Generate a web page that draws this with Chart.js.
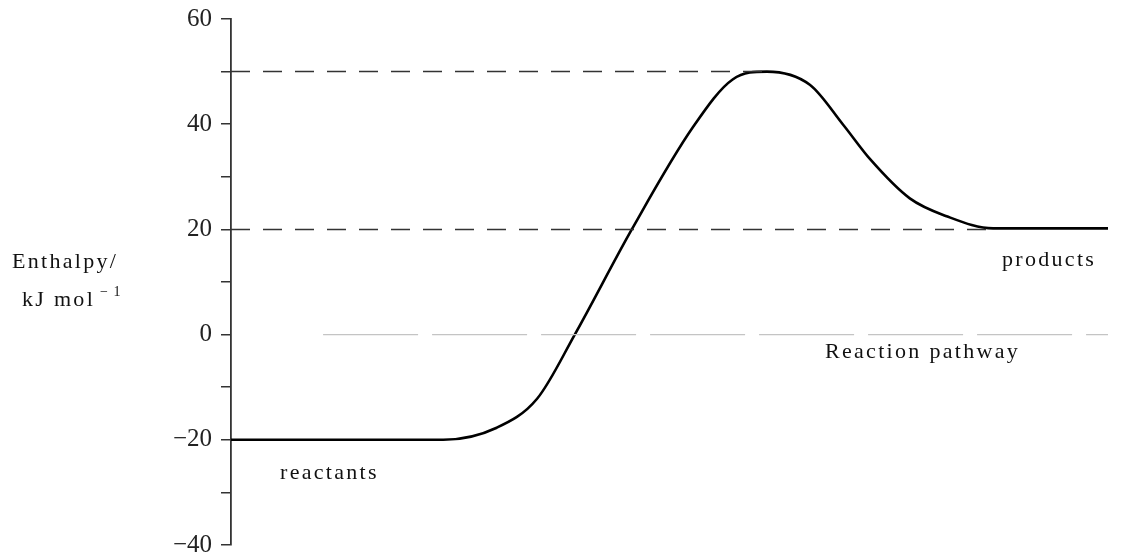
<!DOCTYPE html>
<html>
<head>
<meta charset="utf-8">
<script src="https://cdn.jsdelivr.net/npm/chart.js@4"></script>
<style>
  html, body { margin: 0; padding: 0; background: #fff; }
  #wrap { width: 1128px; height: 553px; }
</style>
</head>
<body>
<div id="wrap"><canvas id="energyChart"></canvas></div>
<script>
// reaction pathway (0 = start, 100 = end) and enthalpy
const pathway  = [0, 24.2, 30.3, 34.9, 39.2, 45.7, 52.7, 57.2, 61.1, 66.0, 69.8, 72.9, 77.4, 81.6, 86.9, 100];
const enthalpy = [-20, -20, -17.7, -12.2, 0, 20, 39.5, 48.5, 50, 47.5, 39.9, 33.3, 25.9, 22.5, 20.2, 20.2];

const peakLevel = 50;
const productLevel = 20;
const tickValues = [-40, -20, 0, 20, 40, 60];
const tickLabels = ['\u221240', '\u221220', '0', '20', '40', '60'];

const serif = '"Liberation Serif", "DejaVu Serif", serif';

const labelPlugin = {
    id: 'labels',
    afterDraw(chart) {
        const c = chart.ctx;
        c.save();
        c.fillStyle = '#111';
        c.font = '22px ' + serif;
        c.textBaseline = 'alphabetic';
        c.textAlign = 'left';
        if ('letterSpacing' in c) c.letterSpacing = '2.3px';
        c.fillText('reactants', 280, 479);
        c.fillText('products', 1002, 266);
        c.fillText('Reaction pathway', 825, 358);
        c.fillText('Enthalpy/', 12, 268);
        c.fillText('kJ mol', 22, 306);
        c.font = '14px ' + serif;
        if ('letterSpacing' in c) c.letterSpacing = '1px';
        c.fillText('\u2212 1', 100, 296);
        c.restore();
    }
};

new Chart(document.getElementById('energyChart'), {
    type: 'line',
    data: {
        datasets: [{
            label: 'zero',
            data: [{ x: 10.5, y: 0 }, { x: 100, y: 0 }],
            borderColor: '#c4c4c4',
            borderWidth: 1.2,
            borderDash: [95, 14],
            pointRadius: 0
        }, {
            label: 'peak',
            data: [{ x: 0, y: peakLevel }, { x: 61.1, y: peakLevel }],
            borderColor: '#333',
            borderWidth: 1.5,
            borderDash: [19, 13],
            pointRadius: 0
        }, {
            label: 'products',
            data: [{ x: 0, y: productLevel }, { x: 86.9, y: productLevel }],
            borderColor: '#333',
            borderWidth: 1.5,
            borderDash: [19, 13],
            pointRadius: 0
        }, {
            label: 'Enthalpy',
            data: pathway.map((x, i) => ({ x: x, y: enthalpy[i] })),
            borderColor: '#000',
            borderWidth: 2.6,
            pointRadius: 0,
            cubicInterpolationMode: 'monotone'
        }]
    },
    options: {
        responsive: true,
        maintainAspectRatio: false,
        animation: false,
        layout: { padding: { top: 19, right: 20, bottom: 8, left: 0 } },
        plugins: {
            legend: { display: false },
            tooltip: { enabled: false }
        },
        scales: {
            x: {
                type: 'linear',
                min: 0,
                max: 100,
                display: false
            },
            y: {
                min: -40,
                max: 60,
                afterFit(scale) {
                    scale.width = 231;
                    scale.paddingTop = 0;
                    scale.paddingBottom = 0;
                },
                ticks: {
                    stepSize: 10,
                    color: '#222',
                    padding: 9,
                    font: { family: serif, size: 25 },
                    callback: function(v) {
                        const i = tickValues.indexOf(v);
                        return i >= 0 ? tickLabels[i] : '';
                    }
                },
                grid: {
                    drawOnChartArea: false,
                    tickLength: 10,
                    color: '#333',
                    lineWidth: 1.5
                },
                border: { display: true, color: '#333', width: 1.8 }
            }
        }
    },
    plugins: [labelPlugin]
});
</script>
</body>
</html>
